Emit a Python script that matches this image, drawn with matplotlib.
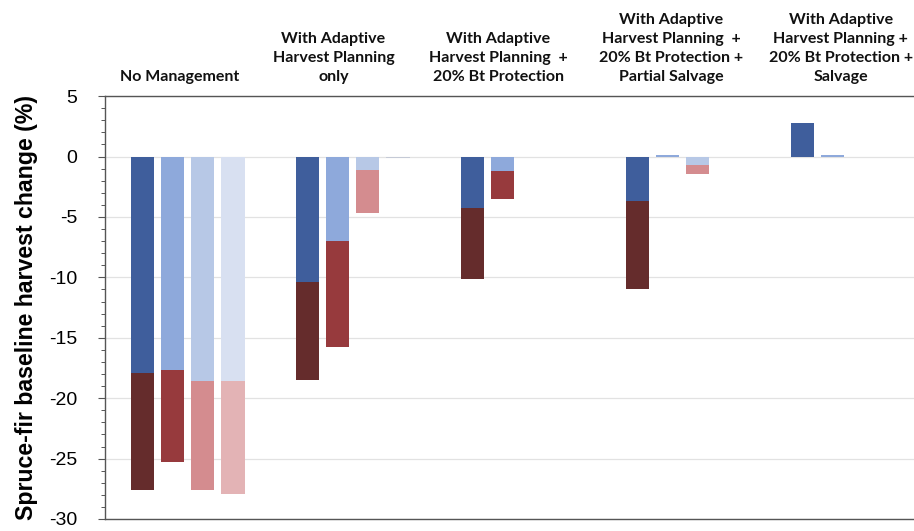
import numpy as np
import matplotlib
matplotlib.use('Agg')
import matplotlib.pyplot as plt
from matplotlib.ticker import MultipleLocator

plt.rcParams['font.family'] = ['Liberation Sans', 'DejaVu Sans']
plt.rcParams['axes.unicode_minus'] = False

# Scenario groups (column headers above the plot)
GROUPS = [
    "No Management",
    "With Adaptive\nHarvest Planning\nonly",
    "With Adaptive\nHarvest Planning  +\n20% Bt Protection",
    "With Adaptive\nHarvest Planning  +\n20% Bt Protection +\nPartial Salvage",
    "With Adaptive\nHarvest Planning +\n20% Bt Protection +\nSalvage",
]

# Four bars per group; blue = first part of the change, red = total change
blue_1 = [-17.9, -10.4, -4.25, -3.65, 2.8]
blue_2 = [-17.7, -7.0, -1.2, 0.15, 0.15]
blue_3 = [-18.6, -1.15, 0.0, -0.7, 0.0]
blue_4 = [-18.6, -0.15, 0.0, 0.0, 0.0]

total_1 = [-27.6, -18.5, -10.1, -11.0, 2.8]
total_2 = [-25.3, -15.8, -3.5, 0.15, 0.15]
total_3 = [-27.6, -4.7, 0.0, -1.45, 0.0]
total_4 = [-27.9, -0.15, 0.0, 0.0, 0.0]

BLUES = ["#3F5E9C", "#8EA9DB", "#B7C8E6", "#C9D0DE"]
REDS  = ["#652C2C", "#973A3D", "#D48C8F", "#E3B3B5"]

blues  = [blue_1, blue_2, blue_3, blue_4]
totals = [total_1, total_2, total_3, total_4]

fig = plt.figure(figsize=(9.14, 5.31), dpi=100)
ax = fig.add_axes([0.1149, 0.0226, 0.89, 0.7964])

x = np.arange(len(GROUPS))
step = 0.183
bar_w = 0.142

for k in range(4):
    xs = x + (k - 1.5) * step
    b = np.array(blues[k])
    t = np.array(totals[k])
    col = BLUES[k] if k < 3 else ["#D8E0F1", "#C5CAD6", "#D8E0F1", "#D8E0F1", "#D8E0F1"]
    ax.bar(xs, b, width=bar_w, color=col, edgecolor="none", zorder=3)
    ax.bar(xs, t - b, bottom=b, width=bar_w, color=REDS[k], edgecolor="none", zorder=3)

ax.set_ylim(-30, 5)
ax.set_xlim(-0.5, 4.43)
ax.yaxis.set_major_locator(MultipleLocator(5))
ax.yaxis.set_minor_locator(MultipleLocator(1))
ax.set_xticks([])
ax.tick_params(axis="y", which="major", direction="out", length=5, width=0.8,
               labelsize=14, color="#555555", pad=15)
ax.tick_params(axis="y", which="minor", direction="out", length=3, width=0.7,
               color="#555555")
ax.yaxis.grid(True, color="#E2E2E2", linewidth=0.9, zorder=0)
ax.set_axisbelow(True)

for s in ["left", "top", "bottom"]:
    ax.spines[s].set_color("#555555")
    ax.spines[s].set_linewidth(1.0)
ax.spines["right"].set_visible(False)

ax.set_ylabel("Spruce-fir baseline harvest change (%)", fontsize=16.7,
              fontweight="bold", labelpad=8)

label_shift = [-0.05, -0.115, -0.115, -0.07, -0.04]
for i, g in enumerate(GROUPS):
    ax.text(i + label_shift[i], 6.0, g, ha="center", va="bottom",
            fontsize=11.5, fontweight="bold", family="Lato",
            linespacing=1.45, color="#111111")

fig.savefig("out.png", dpi=100)
plt.close()
